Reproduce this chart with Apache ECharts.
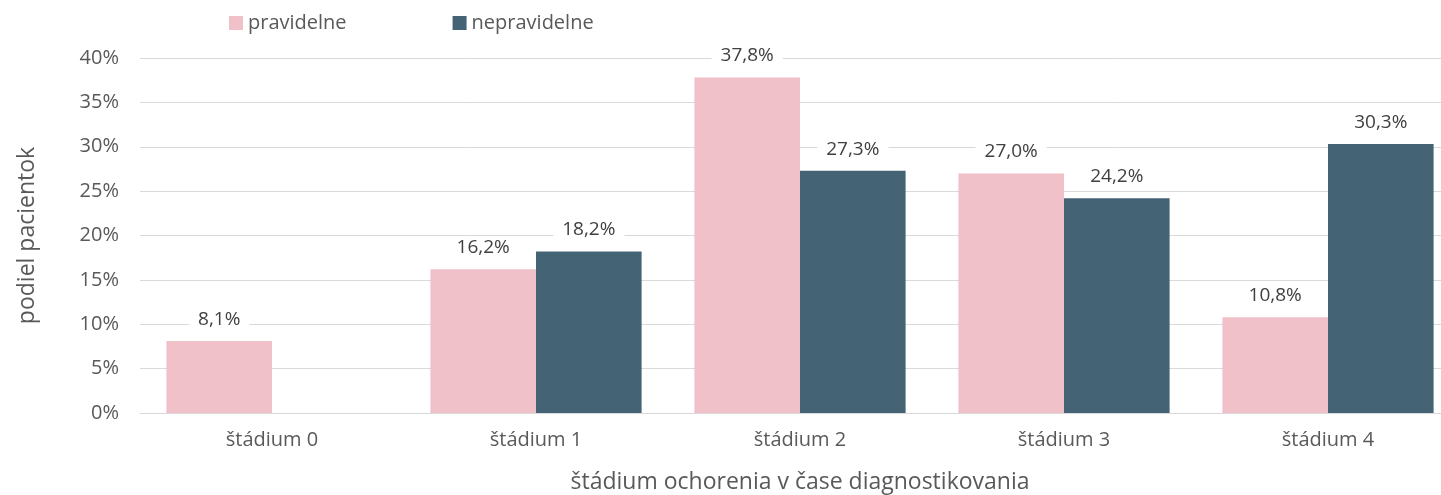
<!DOCTYPE html>
<html>
<head>
<meta charset="utf-8">
<script src="https://cdn.jsdelivr.net/npm/echarts@6/dist/echarts.min.js"></script>
<style>
  html, body { margin: 0; padding: 0; background: #fff; }
  #chart { width: 1441px; height: 495px; }
</style>
</head>
<body>
<div id="chart"></div>
<script>
// data
const categories = ['štádium 0', 'štádium 1', 'štádium 2', 'štádium 3', 'štádium 4']
const pravidelne = [8.1, 16.2, 37.8, 27.0, 10.8]
const nepravidelne = [null, 18.2, 27.3, 24.2, 30.3]
const seriesNames = ['pravidelne', 'nepravidelne']

const FONT = '"Open Sans", "Noto Sans", sans-serif'
const fmt = v => v.toFixed(1).replace('.', ',') + '%'

const labelStyle = {
  show: true,
  position: 'top',
  distance: 10,
  color: '#404040',
  fontSize: 19,
  fontFamily: FONT,
  backgroundColor: '#fff',
  padding: [2, 9],
  formatter: p => (p.value == null ? '' : fmt(p.value))
}

const chart = echarts.init(document.getElementById('chart'))
chart.setOption({
  animation: false,
  textStyle: { fontFamily: FONT },
  legend: {
    top: 8,
    left: 224,
    itemGap: 106,
    itemWidth: 14,
    itemHeight: 14,
    icon: 'rect',
    textStyle: { fontSize: 20, color: '#595959', fontFamily: FONT },
    data: seriesNames
  },
  // plot area runs past the right edge, as in the original (cropped) picture
  grid: { left: 140, right: -19, top: 58, bottom: 82, outerBoundsMode: 'none', containLabel: false },
  xAxis: {
    type: 'category',
    data: categories,
    axisTick: { show: false },
    axisLine: { lineStyle: { color: '#d9d9d9', width: 1 } },
    axisLabel: { color: '#595959', fontSize: 20, margin: 17, fontFamily: FONT },
    name: 'štádium ochorenia v čase diagnostikovania',
    nameLocation: 'middle',
    nameGap: 58,
    nameTextStyle: { fontSize: 23, color: '#595959', fontFamily: FONT }
  },
  yAxis: {
    type: 'value',
    min: 0,
    max: 40,
    interval: 5,
    axisLine: { show: false },
    axisTick: { show: false },
    splitLine: { lineStyle: { color: '#d9d9d9', width: 1 } },
    axisLabel: { color: '#595959', fontSize: 20, margin: 21, formatter: '{value}%', fontFamily: FONT },
    name: 'podiel pacientok',
    nameLocation: 'middle',
    nameGap: 101,
    nameTextStyle: { fontSize: 23, color: '#595959', fontFamily: FONT }
  },
  series: [
    {
      name: seriesNames[0],
      type: 'bar',
      data: pravidelne,
      barGap: '0%',
      barCategoryGap: '20%',
      itemStyle: { color: '#F0C1C8' },
      label: labelStyle
    },
    {
      name: seriesNames[1],
      type: 'bar',
      data: nepravidelne,
      barGap: '0%',
      barCategoryGap: '20%',
      itemStyle: { color: '#446476' },
      label: labelStyle
    }
  ]
})
</script>
</body>
</html>
